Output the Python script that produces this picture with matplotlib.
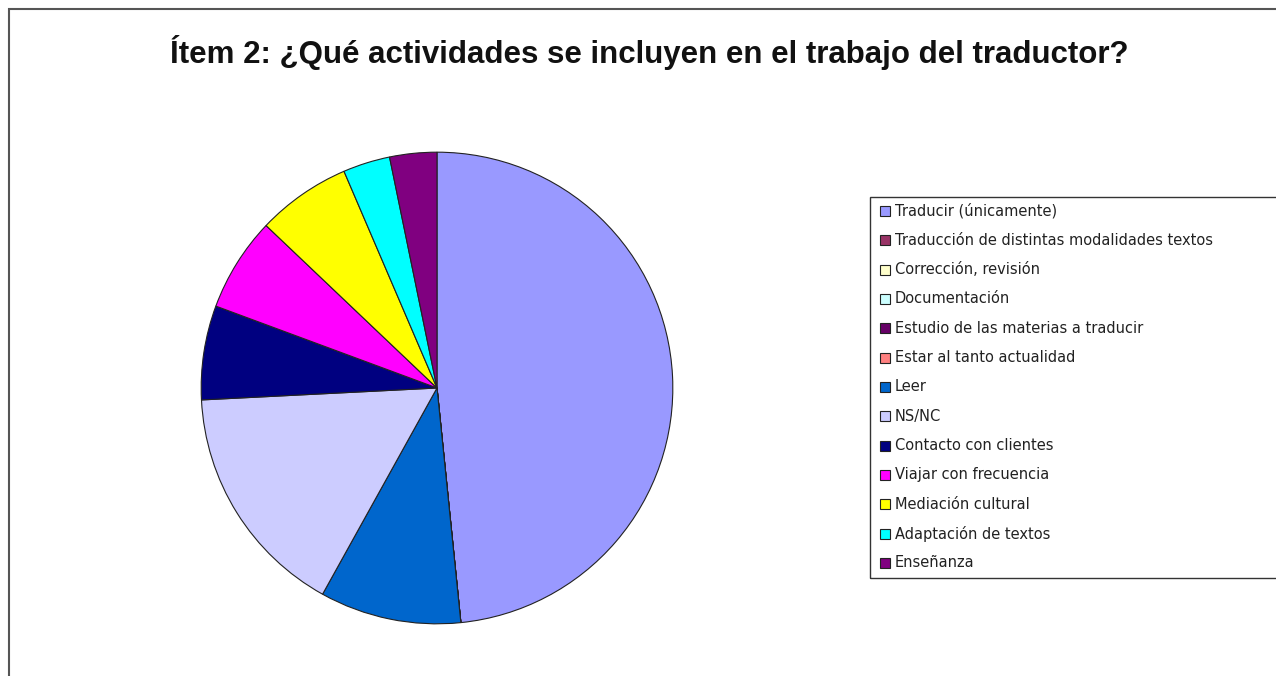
import matplotlib
matplotlib.use('Agg')
import matplotlib.pyplot as plt
from matplotlib.patches import Rectangle

# Item 2 answers (count of responses, N = 31)
labels = ['Traducir (únicamente)', 'Traducción de distintas modalidades textos',
          'Corrección, revisión', 'Documentación', 'Estudio de las materias a traducir',
          'Estar al tanto actualidad', 'Leer', 'NS/NC', 'Contacto con clientes',
          'Viajar con frecuencia', 'Mediación cultural', 'Adaptación de textos', 'Enseñanza']
counts = [15, 0, 0, 0, 0, 0, 3, 5, 2, 2, 2, 1, 1]
colors = ['#9999FF', '#993366', '#FFFFCC', '#CCFFFF', '#660066', '#FF8080', '#0066CC',
          '#CCCCFF', '#000080', '#FF00FF', '#FFFF00', '#00FFFF', '#800080']

W, H = 1276, 676
fig = plt.figure(figsize=(W / 100, H / 100), dpi=100)

# outer chart frame (runs past the right/bottom edge)
fig.patches.append(Rectangle((9 / W, -0.1), 1.2, 1 - 9 / H + 0.1, transform=fig.transFigure,
                             fill=False, edgecolor='#555555', linewidth=1.5))

fig.text(649 / W, 1 - 52 / H, 'Ítem 2: ¿Qué actividades se incluyen en el trabajo del traductor?',
         ha='center', va='center', fontsize=22.5, fontweight='bold',
         family='Liberation Sans', color='#111111')

# pie
cx, cy, r = 437, 388, 237
ax = fig.add_axes([(cx - r) / W, (H - cy - r) / H, 2 * r / W, 2 * r / H])
ax.pie(counts, colors=colors, startangle=90, counterclock=False,
       wedgeprops=dict(edgecolor='#222222', linewidth=0.8))
ax.set_xlim(-1.005, 1.005)
ax.set_ylim(-1.005, 1.005)
ax.set_aspect('equal')
ax.axis('off')

# legend box
lx0, ly0, ly1 = 870, 197, 578
fig.patches.append(Rectangle((lx0 / W, 1 - ly1 / H), 0.5, (ly1 - ly0) / H,
                             transform=fig.transFigure, fill=False,
                             edgecolor='#333333', linewidth=1.0))
top, step = 211, 29.33
for i, (lab, col) in enumerate(zip(labels, colors)):
    y = top + i * step
    fig.patches.append(Rectangle((880 / W, 1 - (y + 5) / H), 10 / W, 10 / H,
                                 transform=fig.transFigure, facecolor=col,
                                 edgecolor='#222222', linewidth=0.8))
    fig.text(895 / W, 1 - y / H, lab, ha='left', va='center', fontsize=10.5,
             family='DejaVu Sans', color='#222222')

fig.savefig('out.png', dpi=100)
